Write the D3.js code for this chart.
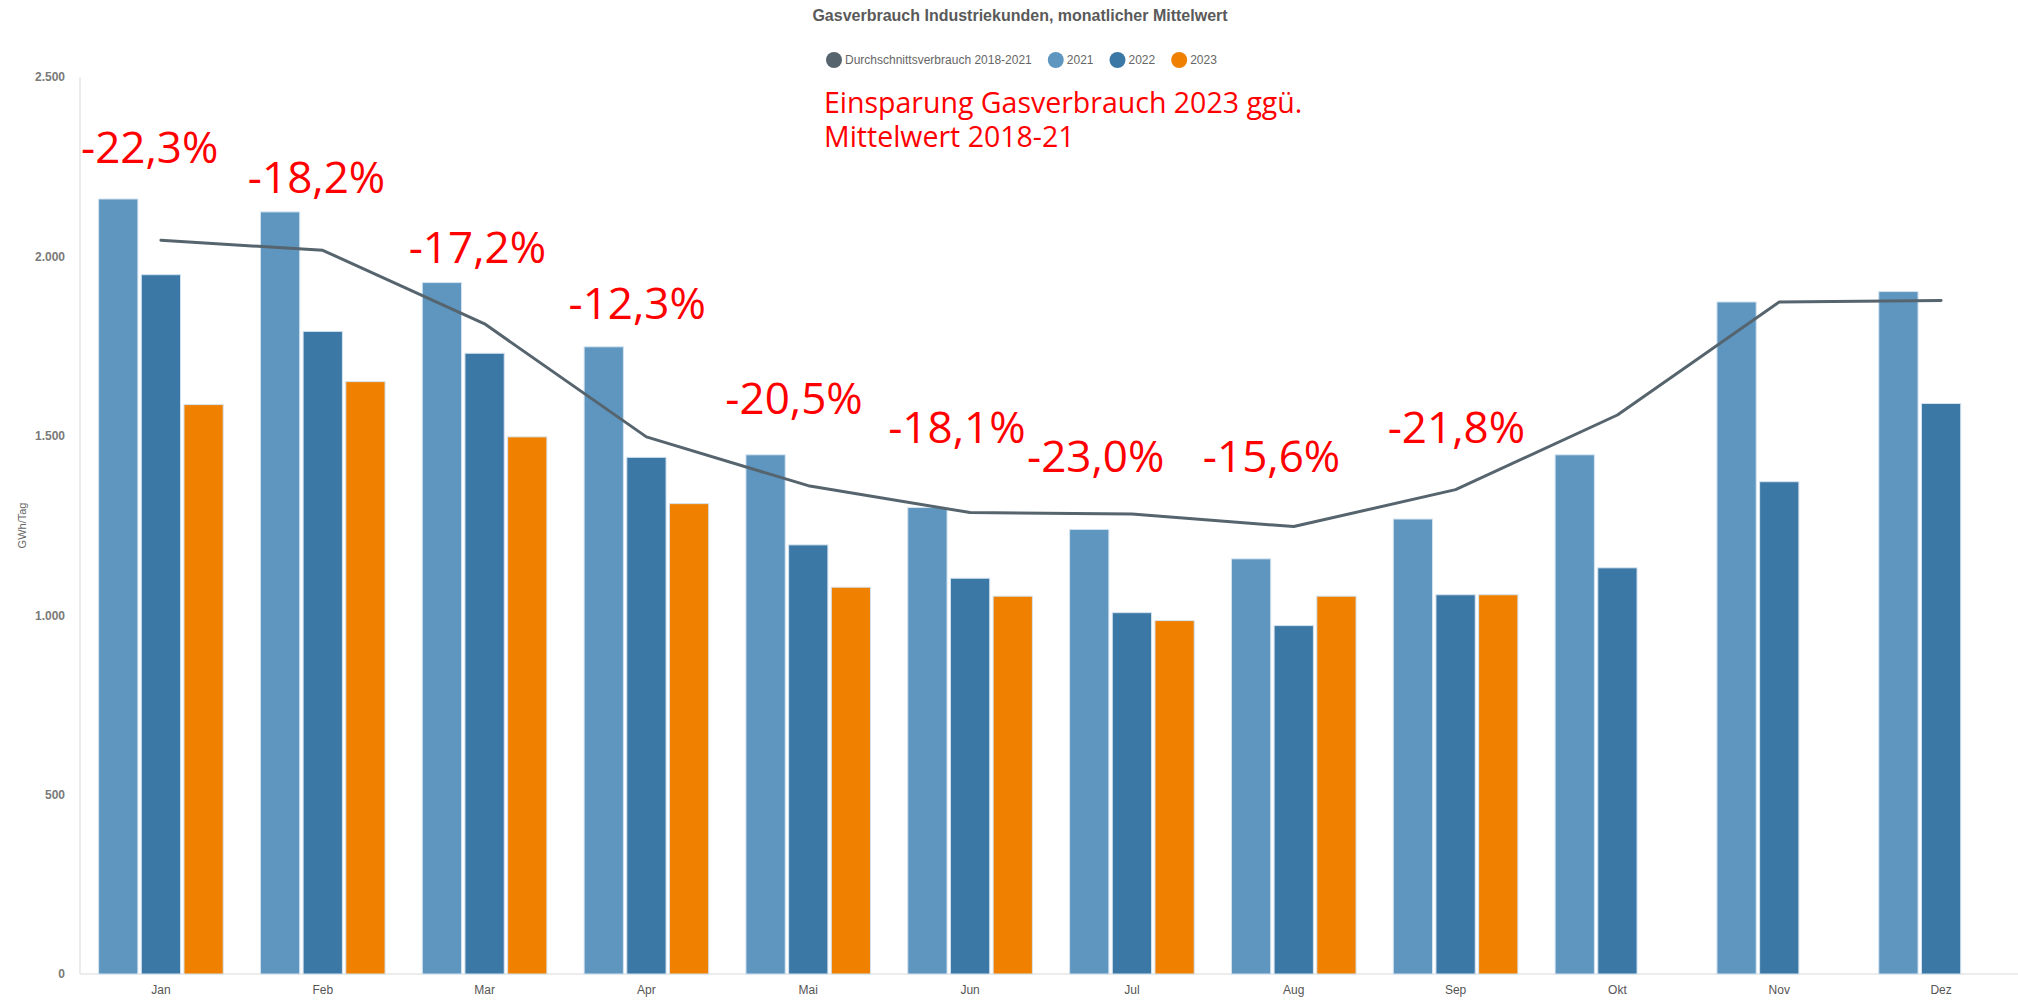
<!DOCTYPE html>
<html>
<head>
<meta charset="utf-8">
<script src="https://d3js.org/d3.v7.min.js"></script>
<style>
  body { margin: 0; background: #fff; }
  text { font-family: "Liberation Sans", Arial, sans-serif; }
</style>
</head>
<body>
<svg class="target"></svg>
<script>

// monthly averages, GWh/Tag
months = ['Jan', 'Feb', 'Mar', 'Apr', 'Mai', 'Jun', 'Jul', 'Aug', 'Sep', 'Okt', 'Nov', 'Dez']
years = ['2021', '2022', '2023']
v2021 = [2160, 2124, 1927, 1748, 1447, 1300, 1239, 1157, 1268, 1447, 1873, 1902]
v2022 = [1949, 1791, 1730, 1440, 1196, 1103, 1007, 971, 1057, 1132, 1372, 1590]
v2023 = [1587, 1651, 1497, 1311, 1078, 1053, 985, 1053, 1057, null, null, null]
avg1821 = [2045, 2017, 1812, 1497, 1361, 1286, 1282, 1247, 1350, 1558, 1873, 1877]
yTicks = [0, 500, 1000, 1500, 2000, 2500]

// savings labels (month, text, anchor value)
pctMonths = ['Jan', 'Feb', 'Mar', 'Apr', 'Mai', 'Jun', 'Jul', 'Aug', 'Sep']
pctTexts = ['-22,3%', '-18,2%', '-17,2%', '-12,3%', '-20,5%', '-18,1%', '-23,0%', '-15,6%', '-21,8%']
pctAt = [2260, 2177, 1982, 1826, 1561, 1480, 1399, 1399, 1480]
pctShift = [1, 6, 5, 3, -2, -1, -24, -10, 13]

colors = { '2021': '#5e96bf', '2022': '#3c78a5', '2023': '#f08000' }
lineColor = '#56646e'

width = 2018
height = 1001
margin = ({ top: 77, right: -4, bottom: 27, left: 80 })

svg = d3.select('.target')
    .attr('width', width)
    .attr('height', height)

de = d3.formatLocale({ decimal: ',', thousands: '.', grouping: [3], currency: ['', '€'] })

x0 = d3.scaleBand()
    .domain(months)
    .range([margin.left, width - margin.right])
    .paddingInner(0.23)
    .paddingOuter(0.115)

x1 = d3.scaleBand()
    .domain(years)
    .range([0, x0.bandwidth()])
    .paddingInner(0.08)

y = d3.scaleLinear()
    .domain([0, 2500])
    .range([height - margin.bottom, margin.top])

// axis lines
svg.append('line')
    .attr('x1', margin.left).attr('x2', margin.left)
    .attr('y1', y(2500)).attr('y2', y(0))
    .attr('stroke', '#e6e6e6').attr('stroke-width', 1.5)
svg.append('line')
    .attr('x1', margin.left).attr('x2', width)
    .attr('y1', y(0)).attr('y2', y(0))
    .attr('stroke', '#e6e6e6').attr('stroke-width', 1.5)

// y ticks
yAxis = svg.append('g')
    .attr('transform', `translate(${margin.left - 12},0)`)
    .call(d3.axisLeft(y).tickValues(yTicks).tickFormat(de.format(',')).tickSize(0))
yAxis.select('.domain').remove()
yAxis.selectAll('text')
    .attr('fill', '#7a7a7a')
    .style('font-size', '12px')
    .style('font-weight', 'bold')

svg.append('text')
    .attr('transform', `translate(26,${(y(0) + y(2500)) / 2}) rotate(-90)`)
    .attr('text-anchor', 'middle')
    .attr('fill', '#666')
    .style('font-size', '11px')
    .text('GWh/Tag')

// x labels
xAxis = svg.append('g')
    .attr('transform', `translate(0,${y(0) + 8})`)
    .call(d3.axisBottom(x0).tickSize(0))
xAxis.select('.domain').remove()
xAxis.selectAll('text')
    .attr('fill', '#555')
    .style('font-size', '12px')

// bars
rows = months.map((m, i) => ({ month: m, vals: [v2021[i], v2022[i], v2023[i]] }))

svg.append('g')
  .selectAll('g')
  .data(rows)
  .join('g')
    .attr('transform', d => `translate(${x0(d.month)},0)`)
  .selectAll('rect')
  .data(d => years.map((yr, j) => ({ year: yr, value: d.vals[j] })).filter(d => d.value != null))
  .join('rect')
    .attr('x', d => x1(d.year))
    .attr('y', d => y(d.value))
    .attr('width', x1.bandwidth())
    .attr('height', d => y(0) - y(d.value))
    .attr('fill', d => colors[d.year])
    .attr('stroke', '#d4e3f0')
    .attr('stroke-width', 1)

// average line
line = d3.line()
    .x((d, i) => x0(months[i]) + x0.bandwidth() / 2)
    .y(d => y(d))

svg.append('path')
    .datum(avg1821)
    .attr('d', line)
    .attr('fill', 'none')
    .attr('stroke', lineColor)
    .attr('stroke-width', 3)
    .attr('stroke-linejoin', 'round')
    .attr('stroke-linecap', 'round')

// savings labels
svg.append('g')
  .selectAll('text')
  .data(pctTexts)
  .join('text')
    .attr('x', (d, i) => x0(pctMonths[i]) - x0.step() * x0.paddingInner() / 2 + pctShift[i])
    .attr('y', (d, i) => y(pctAt[i]))
    .attr('fill', '#ff0000')
    .style('font-family', '"Open Sans", sans-serif')
    .style('font-size', '44px')
    .text(d => d)

note = svg.append('text')
    .attr('x', 824)
    .attr('fill', '#ff0000')
    .style('font-family', '"Open Sans", sans-serif')
    .style('font-size', '28.5px')
note.append('tspan').attr('x', 824).attr('y', 113).text('Einsparung Gasverbrauch 2023 ggü.')
note.append('tspan').attr('x', 824).attr('y', 147).text('Mittelwert 2018-21')

// title
svg.append('text')
    .attr('x', 1020)
    .attr('y', 21)
    .attr('text-anchor', 'middle')
    .attr('fill', '#5a5a5a')
    .style('font-size', '16px')
    .style('font-weight', 'bold')
    .text('Gasverbrauch Industriekunden, monatlicher Mittelwert')

// legend
legendItems = [
  { name: 'Durchschnittsverbrauch 2018-2021', color: lineColor },
  { name: '2021', color: colors['2021'] },
  { name: '2022', color: colors['2022'] },
  { name: '2023', color: colors['2023'] }
]

legend = svg.append('g').attr('transform', 'translate(0,60)')
lx = 834
legendItems.forEach(it => {
  g = legend.append('g').attr('transform', `translate(${lx},0)`)
  g.append('circle').attr('r', 8).attr('fill', it.color)
  t = g.append('text')
      .attr('x', 11)
      .attr('y', 4)
      .attr('fill', '#666')
      .style('font-size', '12px')
      .text(it.name)
  lx += 11 + t.node().getComputedTextLength() + 24
})

</script>
</body>
</html>
